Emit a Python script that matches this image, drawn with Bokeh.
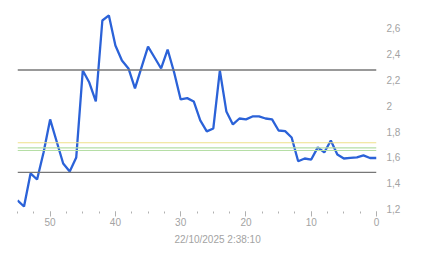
from bokeh.plotting import figure
from bokeh.models import Range1d, LinearAxis, Span, FixedTicker, CustomJSTickFormatter, Title
from bokeh.embed import file_html
from bokeh.resources import INLINE

# data: minutes ago (55 .. 0) and values
x_ago = list(range(55, -1, -1))
values = [1.267, 1.220, 1.476, 1.429, 1.640, 1.895, 1.724, 1.553, 1.491, 1.600,
          2.274, 2.181, 2.034, 2.662, 2.701, 2.468, 2.352, 2.290, 2.135, 2.298,
          2.460, 2.375, 2.290, 2.437, 2.259, 2.050, 2.060, 2.034, 1.887, 1.802,
          1.825, 2.274, 1.957, 1.856, 1.902, 1.895, 1.918, 1.918, 1.902, 1.895,
          1.809, 1.804, 1.755, 1.571, 1.592, 1.584, 1.678, 1.639, 1.732, 1.623,
          1.592, 1.596, 1.600, 1.616, 1.596, 1.596]
upper_band = 2.278
lower_band = 1.485
yellow_level = 1.714
green_levels = [1.675, 1.654]
y_ticks = [1.2, 1.4, 1.6, 1.8, 2.0, 2.2, 2.4, 2.6]
x_ticks = [0, 10, 20, 30, 40, 50]
timestamp = "22/10/2025 2:38:10"

FONT = "Liberation Sans"
GRAY = "#a3a3a3"

p = figure(width=443, height=258, output_backend="svg", toolbar_location=None,
           x_range=Range1d(55, 0), y_range=Range1d(1.181, 2.817),
           min_border_left=17, min_border_right=67, min_border_top=0,
           min_border_bottom=47, x_axis_location=None, y_axis_location=None)
p.outline_line_color = None
p.xgrid.visible = False
p.ygrid.visible = False
p.background_fill_color = "white"
p.border_fill_color = "white"

xa = LinearAxis(ticker=FixedTicker(ticks=x_ticks,
                                   minor_ticks=[i * 2.5 for i in range(0, 23)]))
xa.axis_line_color = None
xa.major_tick_in = 0
xa.major_tick_out = 5
xa.major_tick_line_color = "#b0b0b0"
xa.minor_tick_in = 0
xa.minor_tick_out = 2
xa.minor_tick_line_color = "#b0b0b0"
xa.major_label_standoff = 1
xa.major_label_text_font = FONT
xa.major_label_text_font_size = "10px"
xa.major_label_text_color = GRAY
p.add_layout(xa, "below")

ya = LinearAxis(ticker=FixedTicker(ticks=y_ticks, minor_ticks=[]),
                formatter=CustomJSTickFormatter(code="""
var s = (Math.round(tick*10)/10).toString();
return s.replace('.', ',');
"""))
ya.axis_line_color = None
ya.major_tick_line_color = None
ya.minor_tick_line_color = None
ya.major_label_standoff = 4
ya.major_label_text_font = FONT
ya.major_label_text_font_size = "10px"
ya.major_label_text_color = GRAY
p.add_layout(ya, "right")

p.add_layout(Span(location=yellow_level, dimension="width", line_color="#efe08a", line_width=1.2))
p.add_layout(Span(location=green_levels[0], dimension="width", line_color="#b5dea5", line_width=1.2))
p.add_layout(Span(location=green_levels[1], dimension="width", line_color="#b5dea5", line_width=1.2))
p.add_layout(Span(location=upper_band, dimension="width", line_color="#777777", line_width=1.3))
p.add_layout(Span(location=lower_band, dimension="width", line_color="#777777", line_width=1.3))

p.line(x_ago, values, line_color="#2b62d8", line_width=2.3)

# timestamp caption, centred on the whole chart width, below the axis
p.add_layout(Title(text=timestamp, align="left", offset=157, standoff=7,
                   text_font=FONT, text_font_size="10px", text_font_style="normal",
                   text_color=GRAY), "below")

open("out.html", "w").write(file_html(p, INLINE))
